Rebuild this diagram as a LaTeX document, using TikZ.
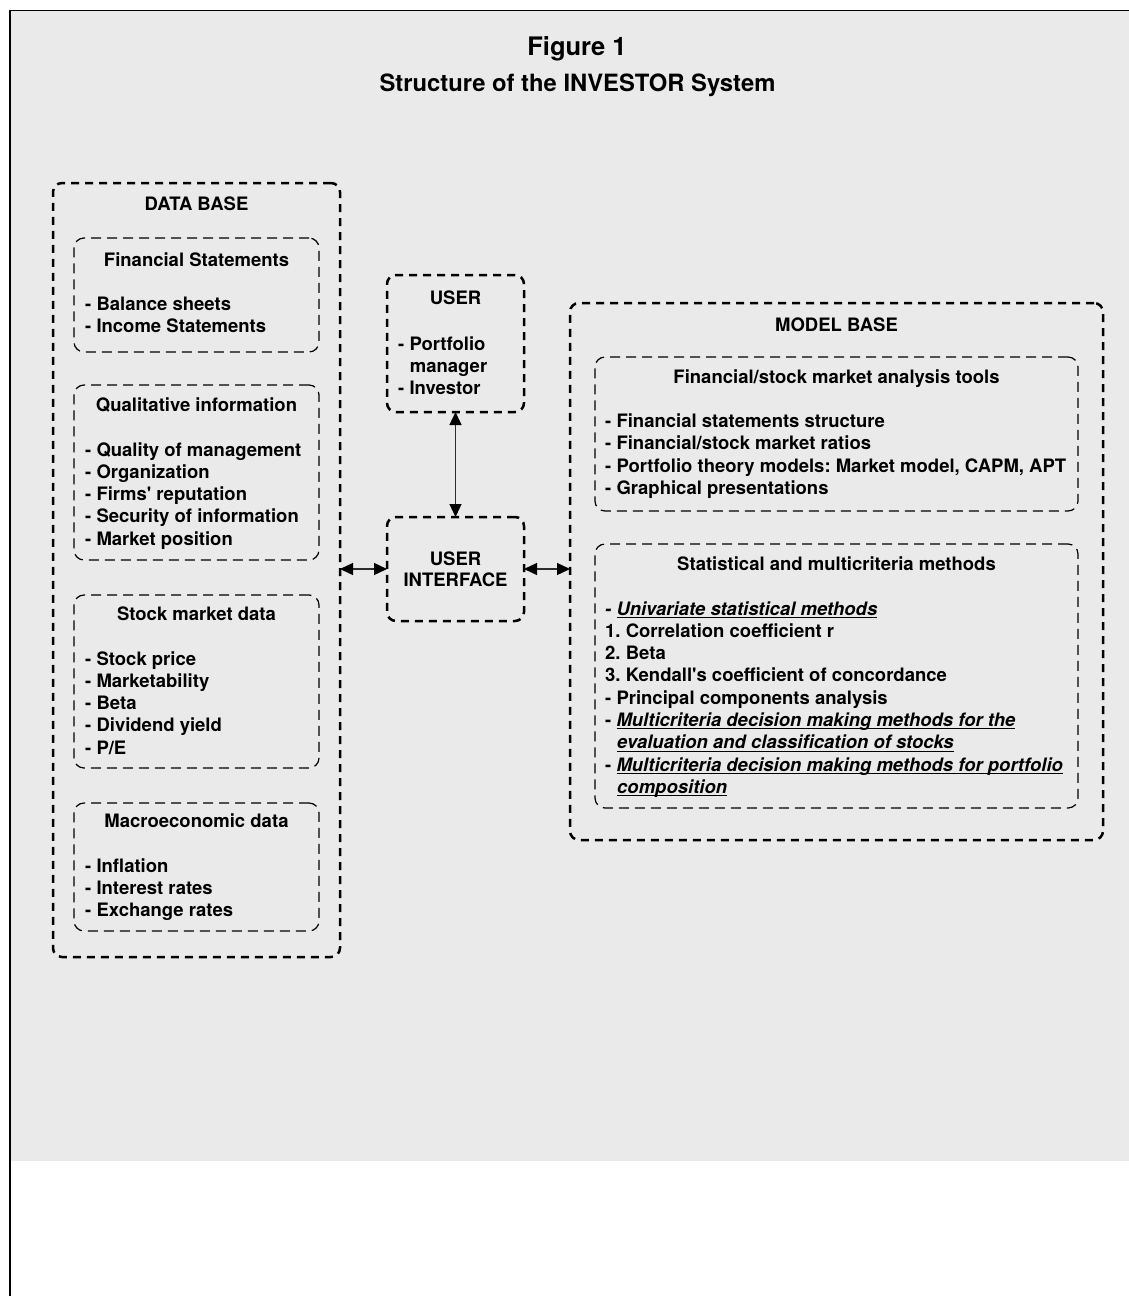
\documentclass[tikz,border=0pt]{standalone}
\usepackage{fontspec}
\setmainfont{TeX Gyre Heros}
\usetikzlibrary{arrows.meta,fit}
\definecolor{panel}{RGB}{234,234,234}
\definecolor{linkgray}{RGB}{45,45,45}
\frenchspacing
% underline at a fixed depth below the baseline
\newcommand\ulword[1]{\setbox0\hbox{#1}\rlap{\rule[-2.8pt]{\wd0}{1.1pt}}\box0}
\newcommand\sq{\textquotesingle}

\begin{document}
\begin{tikzpicture}[x=1pt,y=-1pt,
  outerbox/.style={draw, line width=2.5pt, dash pattern=on 8pt off 6pt,
    rounded corners=9pt, inner sep=0pt, outer sep=0pt},
  innerbox/.style={draw, line width=1.2pt, dash pattern=on 10pt off 6pt,
    rounded corners=10pt, inner sep=0pt, outer sep=0pt},
  txt/.style={font=\bfseries\fontsize{18.5}{22.3}\selectfont, inner sep=0pt},
  hd/.style={txt, anchor=base},
  itm/.style={txt, anchor=base west},
  link/.style={line width=1.3pt, draw=linkgray, {Triangle[length=13pt,width=12pt,color=black]}-{Triangle[length=13pt,width=12pt,color=black]}}
]
\useasboundingbox (0,0) rectangle (1129,1296);

% page panel and its frame
\fill[panel] (10,10.5) rectangle (1129,1161);
\draw[line width=1.6pt] (1129,10.5) -- (10,10.5) -- (10,1296);

% headings
\node[font=\bfseries\fontsize{25.5}{30}\selectfont, anchor=base, inner sep=0pt] (fig) at (577,55) {Figure 1};
\node[font=\bfseries\fontsize{23.8}{28}\selectfont, anchor=base, inner sep=0pt] (sub) at (577.5,91.7) {Structure of the INVESTOR System};

% ---------------- data base ----------------
\node[outerbox, fit={(53,183) (340,957)}] (db) {};
\node[hd] (dbT) at (196.5,210.7) {DATA BASE};

\node[innerbox, fit={(74,238) (319,352)}] (fs) {};
\node[hd] (fsT) at (196.5,266) {Financial Statements};
\foreach \t [count=\i] in {Balance sheets, Income Statements}
  \node[itm] (fs\i) at (85,288.3+22.3*\i) {- \t};

\node[innerbox, fit={(74,385) (319,560)}] (ql) {};
\node[hd] (qlT) at (196.5,411.7) {Qualitative information};
\foreach \t [count=\i] in {Quality of management, Organization, Firms\sq{} reputation, Security of information, Market position}
  \node[itm] (ql\i) at (85,433.7+22.3*\i) {- \t};

\node[innerbox, fit={(74,595) (319,768)}] (sm) {};
\node[hd] (smT) at (196.5,620) {Stock market data};
\foreach \t [count=\i] in {Stock price, Marketability, Beta, Dividend yield, P/E}
  \node[itm] (sm\i) at (85,642.7+22.3*\i) {- \t};

\node[innerbox, fit={(74,803) (319,931)}] (me) {};
\node[hd] (meT) at (196.5,827.7) {Macroeconomic data};
\foreach \t [count=\i] in {Inflation, Interest rates, Exchange rates}
  \node[itm] (me\i) at (85,850+22.3*\i) {- \t};

% ---------------- user ----------------
\node[outerbox, fit={(387,275) (524,412)}] (user) {};
\node[hd] (userT) at (455.5,304) {USER};
\node[itm] (user1) at (398,350) {- Portfolio};
\node[itm] (user2) at (409.7,372) {manager};
\node[itm] (user3) at (398,394) {- Investor};

\node[outerbox, fit={(387,517) (524,621)}] (ui) {};
\node[hd] (ui1) at (455.5,565) {USER};
\node[hd] (ui2) at (455.5,586) {INTERFACE};

% ---------------- model base ----------------
\node[outerbox, fit={(570,303) (1103,840)}] (mb) {};
\node[hd] (mbT) at (836.5,331) {MODEL BASE};

\node[innerbox, fit={(595,357) (1078,511)}] (tl) {};
\node[hd] (tlT) at (836.5,383) {Financial/stock market analysis tools};
\foreach \t [count=\i] in {Financial statements structure, Financial/stock market ratios,
    {Portfolio theory models: Market model, CAPM, APT}, Graphical presentations}
  \node[itm] (tl\i) at (605,405.3+22.3*\i) {- \t};

\node[innerbox, fit={(595,544) (1078,808)}] (st) {};
\node[hd] (stT) at (836.5,570) {Statistical and multicriteria methods};
\node[itm] (st1) at (605,615)   {\itshape - \ulword{Univariate statistical methods}};
\node[itm] (st2) at (605,637.3) {1. Correlation coefficient r};
\node[itm] (st3) at (605,659.6) {2. Beta};
\node[itm] (st4) at (605,681.9) {3. Kendall\sq{}s coefficient of concordance};
\node[itm] (st5) at (605,704.2) {- Principal components analysis};
\node[itm] (st6) at (605,726.5) {- \itshape\ulword{Multicriteria decision making methods for the}};
\node[itm] (st7) at (617,748.8) {\itshape\ulword{evaluation and classification of stocks}};
\node[itm] (st8) at (605,771.1) {- \itshape\ulword{Multicriteria decision making methods for portfolio}};
\node[itm] (st9) at (617,793.4) {\itshape\ulword{composition}};

% ---------------- connectors ----------------
\draw[link] (user.south) -- (ui.north);
\draw[link] (ui.west -| db.east) -- (ui.west);
\draw[link] (ui.east) -- (ui.east -| mb.west);
\end{tikzpicture}
\end{document}
